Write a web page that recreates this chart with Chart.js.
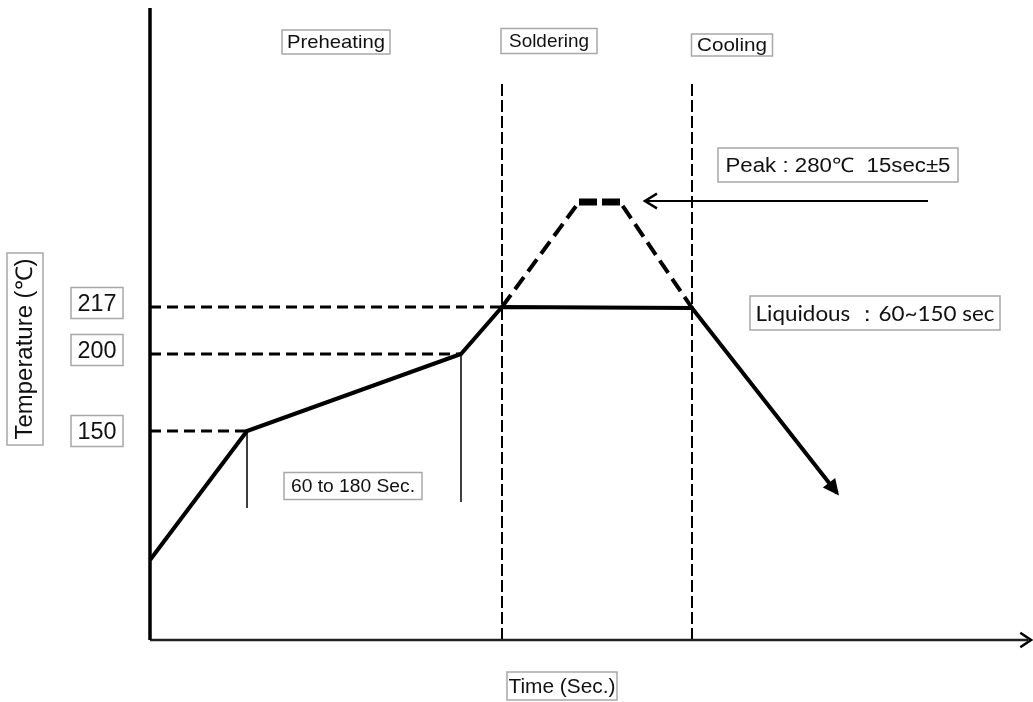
<!DOCTYPE html>
<html>
<head>
<meta charset="utf-8">
<script src="https://cdn.jsdelivr.net/npm/chart.js@4"></script>
<style>
  html, body { margin: 0; padding: 0; background: #fff; }
  #wrap { width: 1033px; height: 702px; }
</style>
</head>
<body>
<div id="wrap"><canvas id="chart1" width="1033" height="702"></canvas></div>
<script>
// chart units: x = time (arbitrary), y = temperature level (diagram is not to scale)
const profileX = [0, 97, 311, 352, 542, 687];
const profileY = [80, 209, 286, 333, 332, 147];

const peakX = [352, 429, 470, 542];
const peakY = [333, 438, 438, 332];

const tempLabels = ['150', '200', '217'];
const tempLevels = [209, 286, 333];
const tempEndX = [97, 311, 352];

const phaseBoundsX = [352, 542];
const phaseTopY = 558;

const soakX = [97, 311];
const soakBottomY = [132, 138];

const pointerX = [778, 495];
const pointerY = 439;

const xMax = 880;
const yMax = 632;

function seg(xs, ys) {
  let pts = [];
  for (let i = 0; i < xs.length; i++) pts.push({x: xs[i], y: ys[i]});
  return pts;
}

const base = {showLine: true, pointRadius: 0, borderColor: '#000', fill: false, tension: 0, clip: false};

let datasets = [];
// axes
datasets.push(Object.assign({}, base, {data: seg([0, 0], [0, yMax]), borderWidth: 3.5}));
datasets.push(Object.assign({}, base, {data: seg([0, xMax - 2], [0, 0]), borderWidth: 2.5, borderColor: '#222'}));
// guide lines at 150 / 200 / 217
for (let i = 0; i < tempLevels.length; i++) {
  datasets.push(Object.assign({}, base, {data: seg([0, tempEndX[i]], [tempLevels[i], tempLevels[i]]), borderWidth: 3, borderDash: [11, 6]}));
}
// phase boundaries
for (let i = 0; i < phaseBoundsX.length; i++) {
  datasets.push(Object.assign({}, base, {data: seg([phaseBoundsX[i], phaseBoundsX[i]], [0, phaseTopY]), borderWidth: 2, borderDash: [12, 4]}));
}
// soak time markers
for (let i = 0; i < soakX.length; i++) {
  datasets.push(Object.assign({}, base, {data: seg([soakX[i], soakX[i]], [tempLevels[i], soakBottomY[i]]), borderWidth: 1.5}));
}
// peak dashed path
datasets.push(Object.assign({}, base, {data: seg(peakX, peakY), borderWidth: 4, borderDash: [15, 7]}));
datasets.push(Object.assign({}, base, {data: seg([peakX[1], peakX[2]], [peakY[1], peakY[2]]), borderWidth: 7, borderDash: [18, 5]}));
// profile
datasets.push(Object.assign({}, base, {data: seg(profileX, profileY), borderWidth: 4}));
// pointer to the peak
datasets.push(Object.assign({}, base, {data: seg(pointerX, [pointerY, pointerY]), borderWidth: 2}));

// boxed texts, anchored in chart units; tw = text width to fit
const boxes = [
  {text: 'Preheating', x: 186, y: 598, w: 108, h: 24, tw: 98, font: '19px "Liberation Sans"'},
  {text: 'Soldering', x: 399, y: 599, w: 96, h: 25, tw: 80, font: '19px "Liberation Sans"'},
  {text: 'Cooling', x: 582, y: 595, w: 81, h: 22, tw: 70, font: '19px "Liberation Sans"'},
  {text: 'Peak : 280\u2103  15sec\u00b15', x: 688, y: 475, w: 240, h: 34, tw: 225, font: '20px "Liberation Sans"'},
  {text: 'Liquidous \uff1a60~150 sec', x: 725, y: 327, w: 250, h: 34, tw: 239, font: '21px Lato'},
  {text: '60 to 180 Sec.', x: 203, y: 154, w: 138, h: 27, tw: 124, font: '18px "Liberation Sans"'},
  {text: 'Time (Sec.)', x: 412, y: -46, w: 110, h: 28, tw: 107, font: '20px "Liberation Sans"'},
  {text: 'Temperature (\u2103)', x: -125, y: 291, w: 192, h: 36, tw: 181, font: '23px "Liberation Sans"', rot: true}
];
const tickBoxX = -53;

function drawBox(ctx, cx, cy, w, h, text, font, tw, rot) {
  ctx.save();
  ctx.translate(cx, cy);
  if (rot) ctx.rotate(-Math.PI / 2);
  ctx.fillStyle = '#fff';
  ctx.fillRect(-w / 2, -h / 2, w, h);
  ctx.strokeStyle = '#a8a8a8';
  ctx.lineWidth = 1.5;
  ctx.strokeRect(-w / 2, -h / 2, w, h);
  ctx.fillStyle = '#111';
  ctx.font = font;
  ctx.textAlign = 'center';
  ctx.textBaseline = 'middle';
  const mw = ctx.measureText(text).width;
  ctx.scale(tw / mw, 1);
  ctx.fillText(text, 0, 1);
  ctx.restore();
}

function chevron(ctx, tx, ty, ang, len, spread, filled) {
  ctx.save();
  ctx.beginPath();
  ctx.moveTo(tx - len * Math.cos(ang - spread), ty - len * Math.sin(ang - spread));
  ctx.lineTo(tx, ty);
  ctx.lineTo(tx - len * Math.cos(ang + spread), ty - len * Math.sin(ang + spread));
  if (filled) {
    ctx.closePath();
    ctx.fillStyle = '#000';
    ctx.fill();
  } else {
    ctx.strokeStyle = '#000';
    ctx.lineWidth = 2.5;
    ctx.stroke();
  }
  ctx.restore();
}

const decor = {
  id: 'decor',
  afterDatasetsDraw(chart) {
    const ctx = chart.ctx;
    const sx = chart.scales.x, sy = chart.scales.y;
    // arrow on the x axis
    chevron(ctx, sx.getPixelForValue(xMax) + 1, sy.getPixelForValue(0), 0, 13, 0.6, false);
    // arrow on the pointer
    chevron(ctx, sx.getPixelForValue(pointerX[1]), sy.getPixelForValue(pointerY), Math.PI, 14, 0.55, false);
    // filled arrow at the end of the profile
    const n = profileX.length;
    const ax = sx.getPixelForValue(profileX[n - 2]), ay = sy.getPixelForValue(profileY[n - 2]);
    const bx = sx.getPixelForValue(profileX[n - 1]), by = sy.getPixelForValue(profileY[n - 1]);
    chevron(ctx, bx + 2, by + 2.5, Math.atan2(by - ay, bx - ax), 18, 0.45, true);
    // temperature tick labels
    for (let i = 0; i < tempLabels.length; i++) {
      drawBox(ctx, sx.getPixelForValue(tickBoxX), sy.getPixelForValue(tempLevels[i]) - (i === 0 ? 0 : 4), 52, 31, tempLabels[i], '24px "Liberation Sans"', 39, false);
    }
    boxes.forEach(function(b) {
      drawBox(ctx, sx.getPixelForValue(b.x), sy.getPixelForValue(b.y), b.w, b.h, b.text, b.font, b.tw, b.rot);
    });
  }
};

const ctx1 = document.getElementById('chart1').getContext('2d');
const chart1 = new Chart(ctx1, {
  type: 'scatter',
  data: {datasets: datasets},
  options: {
    responsive: false,
    animation: false,
    layout: {padding: {left: 150, right: 3, top: 8, bottom: 62}},
    plugins: {legend: {display: false}, tooltip: {enabled: false}},
    scales: {
      x: {type: 'linear', min: 0, max: xMax, display: false},
      y: {type: 'linear', min: 0, max: yMax, display: false}
    }
  },
  plugins: [decor]
});
</script>
</body>
</html>
